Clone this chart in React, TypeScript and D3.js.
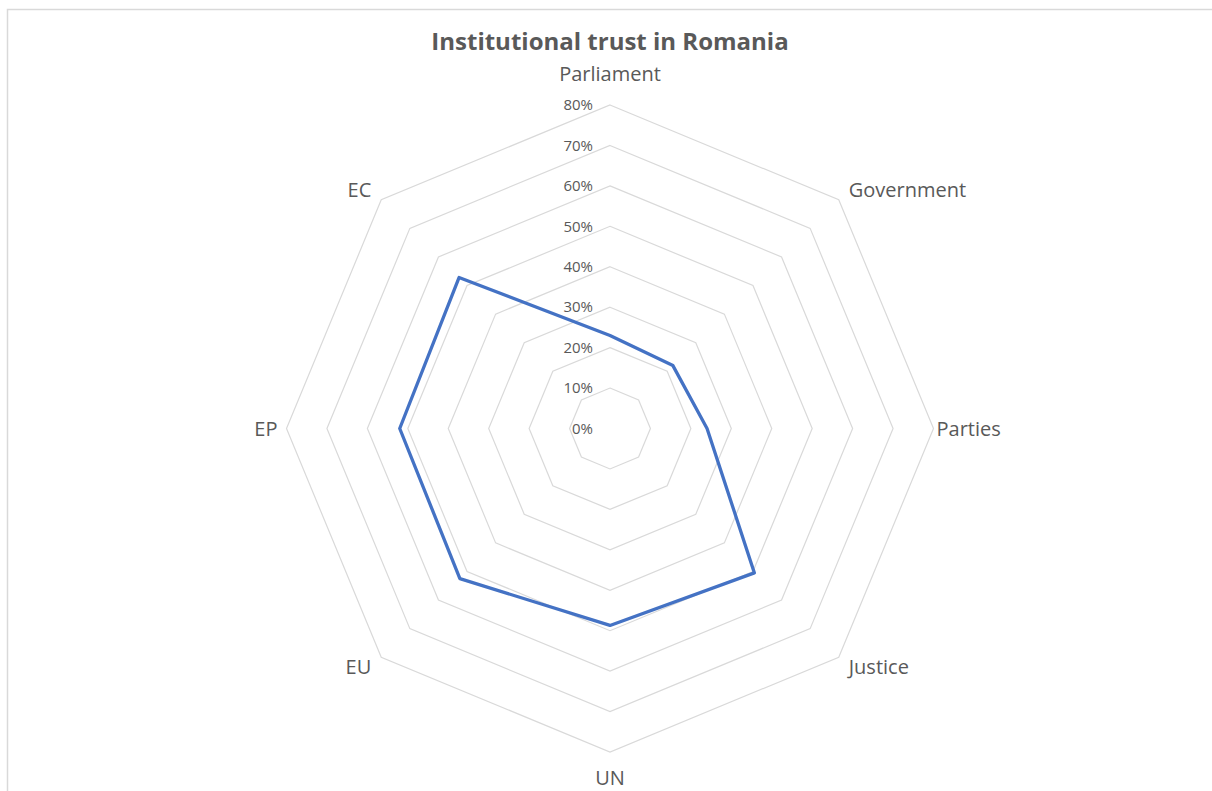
import React from "react";
import * as d3 from "d3";

const categories = ["Parliament", "Government", "Parties", "Justice", "UN", "EU", "EP", "EC"];
const trustValues = [0.23, 0.22, 0.24, 0.505, 0.487, 0.525, 0.52, 0.528];
const tickValues = [0, 0.1, 0.2, 0.3, 0.4, 0.5, 0.6, 0.7, 0.8];
const title = "Institutional trust in Romania";

const W = 1212;
const H = 791;
const cx = 610;
const cy = 428.5;
const R = 323.5;
const textColor = "#595959";
const gridColor = "#d9d9d9";
const lineColor = "#4472C4";
const font = "'Open Sans', 'Noto Sans', sans-serif";

export default function App() {
  const r = d3.scaleLinear().domain([0, 0.8]).range([0, R]);
  const angle = d3
    .scalePoint<string>()
    .domain(categories)
    .range([0, 2 * Math.PI * (1 - 1 / categories.length)]);

  const ringLine = d3
    .lineRadial<string>()
    .angle((c) => angle(c) as number)
    .curve(d3.curveLinearClosed);

  const dataLine = d3
    .lineRadial<number>()
    .angle((_, i) => angle(categories[i]) as number)
    .radius((v) => r(v))
    .curve(d3.curveLinearClosed);

  const labelPos = (c: string) => {
    const a = angle(c) as number;
    const sx = Math.sin(a);
    const sy = -Math.cos(a);
    let x = cx + R * sx;
    let y = cy + R * sy;
    let anchor: "start" | "middle" | "end" = "middle";
    if (Math.abs(sx) < 0.01) {
      anchor = "middle";
      y = sy < 0 ? cy - R - 31 : cy + R + 26;
    } else if (Math.abs(sy) < 0.01) {
      if (sx > 0) {
        anchor = "start";
        x += 3;
      } else {
        anchor = "end";
        x -= 9;
      }
    } else {
      if (sx > 0) {
        anchor = "start";
        x += 10;
      } else {
        anchor = "end";
        x -= 10;
      }
      y += sy < 0 ? -10 : 10;
    }
    return { x, y, anchor };
  };

  return (
    <svg
      width={W}
      height={H}
      style={{ position: "absolute", left: 0, top: 0, background: "#fff" }}
      fontFamily={font}
    >
      <rect x={7.5} y={9.5} width={W + 20} height={H + 20} fill="#fff" stroke={gridColor} strokeWidth={1.5} />
      <text x={cx} y={50} textAnchor="middle" fontSize={24} fontWeight="bold" fill={textColor}>
        {title}
      </text>
      <g transform={`translate(${cx},${cy})`}>
        {tickValues
          .filter((t) => t > 0)
          .map((t) => (
            <path
              key={t}
              d={ringLine.radius(() => r(t))(categories) || ""}
              fill="none"
              stroke={gridColor}
              strokeWidth={1.2}
            />
          ))}
        <path d={dataLine(trustValues) || ""} fill="none" stroke={lineColor} strokeWidth={3.3} strokeLinejoin="round" />
        {tickValues.map((t) => (
          <text
            key={t}
            x={-17}
            y={-r(t)}
            dy="0.35em"
            textAnchor="end"
            fontSize={15}
            fill={textColor}
          >
            {d3.format(".0%")(t)}
          </text>
        ))}
      </g>
      {categories.map((c) => {
        const p = labelPos(c);
        return (
          <text key={c} x={p.x} y={p.y} dy="0.35em" textAnchor={p.anchor} fontSize={20} fill={textColor}>
            {c}
          </text>
        );
      })}
    </svg>
  );
}
